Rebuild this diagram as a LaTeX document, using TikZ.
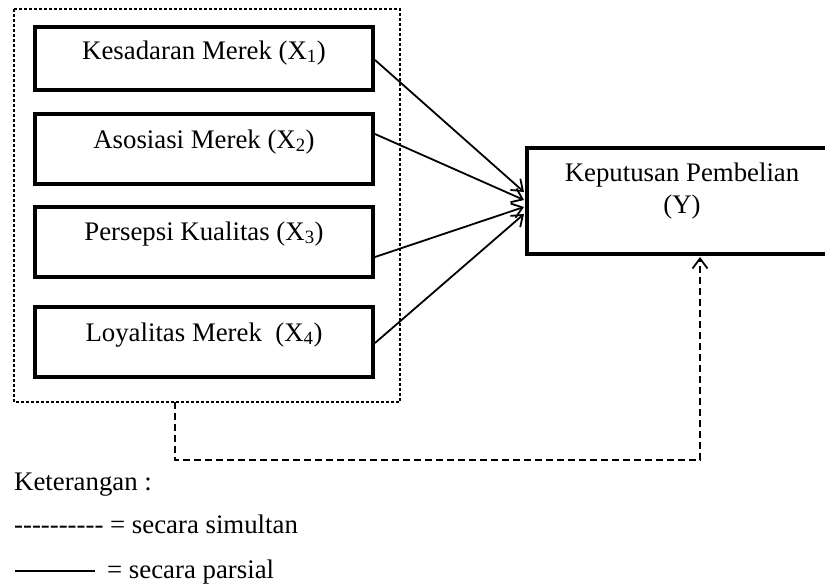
\documentclass[tikz,border=0pt]{standalone}
\usepackage{fontspec}
\setmainfont{Liberation Serif}
\usetikzlibrary{arrows.meta}
\tikzset{
  varbox/.style={draw, line width=3.6pt},
  lbl/.style={anchor=base, inner sep=0pt, font=\fontsize{26.8}{33}\selectfont},
  partial/.style={line width=1.8pt, -{Straight Barb[length=10pt,width=15pt,line width=1.8pt]}},
  simul/.style={line width=1.8pt, dash pattern=on 7pt off 4pt, -{Straight Barb[length=10pt,width=15pt,line width=1.8pt]}},
  groupbox/.style={draw, line width=1.2pt, dash pattern=on 3pt off 2pt},
}
\begin{document}
\begin{tikzpicture}[x=1pt,y=-1pt]
\useasboundingbox (0,0) rectangle (825,587);
% dotted group box
\draw[groupbox] (14,9) rectangle (400,402);
\coordinate (gb) at (175,402);
% independent variable boxes
\draw[varbox] (35,27) rectangle (373,90);
\draw[varbox] (35,114) rectangle (373,184);
\draw[varbox] (35,207) rectangle (373,277);
\draw[varbox] (35,307) rectangle (373,377);
\node[lbl] (x1) at (204,59) {Kesadaran Merek (X\textsubscript{1})};
\node[lbl] (x2) at (204,148) {Asosiasi Merek (X\textsubscript{2})};
\node[lbl] (x3) at (204,240) {Persepsi Kualitas (X\textsubscript{3})};
\node[lbl] (x4) at (204,341) {Loyalitas Merek~ (X\textsubscript{4})};
\coordinate (s1) at (375,60);
\coordinate (s2) at (375,134);
\coordinate (s3) at (375,257);
\coordinate (s4) at (375,343);
% dependent box
\draw[varbox] (527,148) rectangle (840,254);
\node[lbl] (y1) at (682,181) {Keputusan Pembelian};
\node[lbl] (y2) at (682,213) {(Y)};
\coordinate (t1) at (524,192);
\coordinate (t2) at (524,200);
\coordinate (t3) at (524,207);
\coordinate (t4) at (524,214);
\coordinate (ty) at (700,257);
% arrows
\draw[partial] (s1) -- (t1);
\draw[partial] (s2) -- (t2);
\draw[partial] (s3) -- (t3);
\draw[partial] (s4) -- (t4);
\draw[simul] (gb) -- (175,460) -- (700,460) -- (ty);
% legend
\node[lbl, anchor=base west] (ket) at (14,490) {Keterangan :};
\node[lbl, anchor=base west] (sim) at (14,533) {\mbox{-}\mbox{-}\mbox{-}\mbox{-}\mbox{-}\mbox{-}\mbox{-}\mbox{-}\mbox{-}\mbox{-} = secara simultan};
\coordinate (la) at (15,571);
\coordinate (lb) at (95,571);
\draw[line width=1.8pt] (la) -- (lb);
\node[lbl, anchor=base west] (par) at (107,578) {= secara parsial};
\end{tikzpicture}
\end{document}
